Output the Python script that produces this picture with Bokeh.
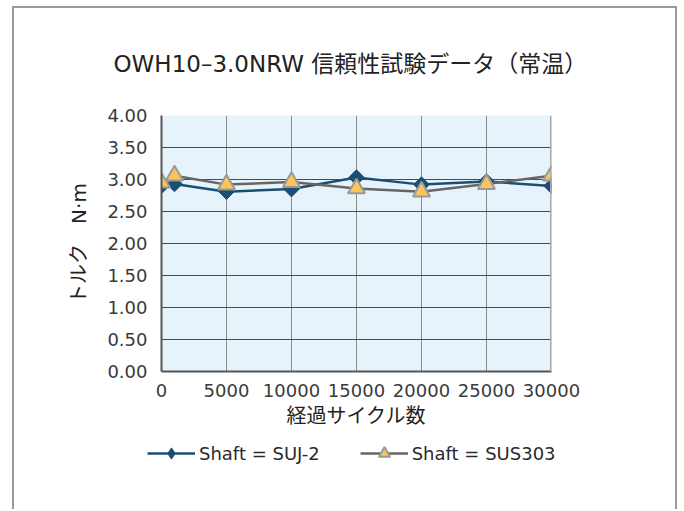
import numpy as np
from bokeh.plotting import figure
from bokeh.models import (Range1d, SingleIntervalTicker, Legend, LegendItem,
                          Span, PrintfTickFormatter)
from bokeh.layouts import column
from bokeh.embed import file_html
from bokeh.resources import INLINE

# ---- data ----
cycles = [0, 1000, 5000, 10000, 15000, 20000, 25000, 30000]
suj2 = [2.90, 2.93, 2.81, 2.85, 3.03, 2.92, 2.97, 2.90]
sus303 = [2.95, 3.06, 2.92, 2.96, 2.86, 2.81, 2.93, 3.06]
series_names = ["Shaft = SUJ-2", "Shaft = SUS303"]
title_text = "OWH10\u20133.0NRW 信頼性試験データ（常温）"
x_label = "経過サイクル数"
y_label = "トルク\u3000N·m"

FONT = "DejaVu Sans, 'Noto Sans CJK JP'"
BORDER = "2px solid #9a9a9a"

BLUE = "#1b4f72"
GRAY = "#666666"
TRI_FILL = "#fbc55a"
TRI_LINE = "#999999"

p = figure(width=665, height=430, output_backend="svg", toolbar_location=None,
           x_range=Range1d(0, 30000), y_range=Range1d(0, 4),
           min_border_left=147, min_border_right=128,
           min_border_top=107, min_border_bottom=67,
           margin=(6, 0, 0, 12), frame_align=False,
           styles={"border-top": BORDER, "border-left": BORDER, "border-right": BORDER})

p.background_fill_color = "#e6f3fa"
p.border_fill_color = "white"
p.outline_line_color = None

# title (a blank second line lifts it away from the plot)
p.title.text = title_text + "\n\u3000"
p.title.align = "left"
p.title.offset = -48
p.title.text_font = FONT
p.title.text_font_size = "23px"
p.title.text_font_style = "normal"
p.title.text_color = "#222222"
p.title.text_line_height = 1.28

# axes
for ax in (p.xaxis[0], p.yaxis[0]):
    ax.major_tick_line_color = None
    ax.minor_tick_line_color = None
    ax.axis_line_color = "#555555"
    ax.axis_line_width = 2
    ax.major_label_text_font = FONT
    ax.major_label_text_font_size = "18px"
    ax.major_label_text_color = "#3a3a3a"
    ax.axis_label_text_font = FONT
    ax.axis_label_text_font_size = "20px"
    ax.axis_label_text_font_style = "normal"
    ax.axis_label_text_color = "#222222"

p.xaxis.ticker = SingleIntervalTicker(interval=5000)
p.yaxis.ticker = SingleIntervalTicker(interval=0.5)
p.yaxis.formatter = PrintfTickFormatter(format="%.2f")
p.xaxis.major_label_standoff = 6
p.yaxis.major_label_standoff = 8
p.xaxis.axis_label = x_label
p.yaxis.axis_label = y_label
p.xaxis.axis_label_standoff = 4
p.yaxis.axis_label_standoff = 13

# grid
p.xgrid.grid_line_color = "#8a8a8a"
p.xgrid.grid_line_width = 1
p.ygrid.grid_line_color = "#4a4a4a"
p.ygrid.grid_line_width = 1
p.add_layout(Span(location=30000, dimension="height", line_color="#aaaaaa", line_width=3))

# series
p.line(cycles, suj2, line_color=BLUE, line_width=2.5)
p.scatter(cycles, suj2, marker="square", angle=np.pi / 4, size=11,
          fill_color=BLUE, line_color=BLUE)
p.line(cycles, sus303, line_color=GRAY, line_width=2.5)
p.scatter(cycles, sus303, marker="triangle", size=17,
          fill_color=TRI_FILL, line_color=TRI_LINE, line_width=2)

# legend strip (separate figure so the legend is not clipped by the chart frame);
# its renderers hold the same series but lie outside this strip's ranges
q = figure(width=665, height=73, output_backend="svg", toolbar_location=None,
           x_range=Range1d(0, 1), y_range=Range1d(-2, -1),
           x_axis_type=None, y_axis_type=None,
           min_border_left=0, min_border_right=0, min_border_top=0, min_border_bottom=0,
           margin=(0, 0, 0, 12), frame_align=False,
           styles={"border-left": BORDER, "border-right": BORDER})
q.outline_line_color = None
q.background_fill_color = "white"
q.border_fill_color = "white"
ql1 = q.line(cycles, suj2, line_color=BLUE, line_width=2.5)
qm1 = q.scatter(cycles, suj2, marker="diamond", size=15,
                fill_color=BLUE, line_color=BLUE)
ql2 = q.line(cycles, sus303, line_color=GRAY, line_width=2.5)
qm2 = q.scatter(cycles, sus303, marker="triangle", size=17,
                fill_color=TRI_FILL, line_color=TRI_LINE, line_width=2)

legend = Legend(items=[LegendItem(label=series_names[0], renderers=[ql1, qm1]),
                       LegendItem(label=series_names[1], renderers=[ql2, qm2])],
                orientation="horizontal", location=(133, 42),
                glyph_width=48, glyph_height=28, label_standoff=4, spacing=40,
                padding=0, margin=0, border_line_color=None,
                background_fill_alpha=0,
                label_text_font=FONT, label_text_font_size="18px",
                label_text_color="#2a2a2a")
q.add_layout(legend, "center")

layout = column(p, q, spacing=0)
open("out.html", "w").write(file_html(layout, INLINE))
